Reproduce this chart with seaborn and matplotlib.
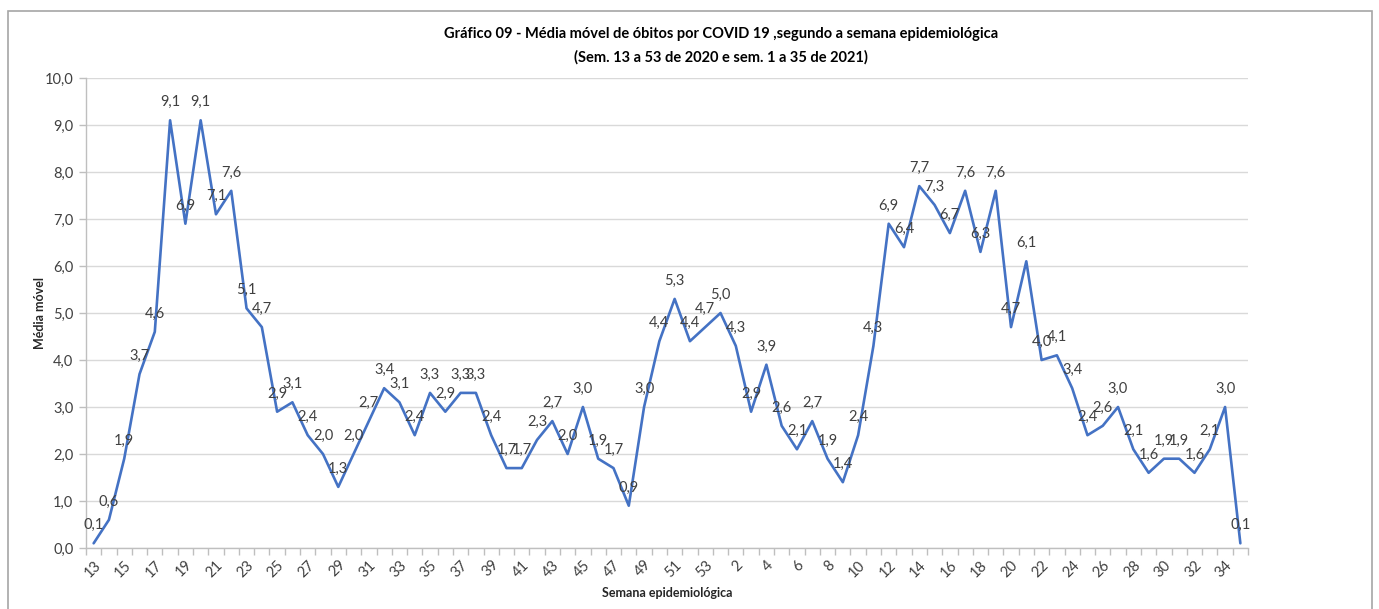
import numpy as np
import pandas as pd
import matplotlib
matplotlib.use("Agg")
import matplotlib.pyplot as plt
from matplotlib.patches import Rectangle
from matplotlib.ticker import FixedLocator, FuncFormatter
import seaborn as sns

# Epidemiological weeks: 13-53 of 2020 followed by 1-35 of 2021
weeks_2020 = list(range(13, 54))
weeks_2021 = list(range(1, 36))
week_labels = [str(w) for w in weeks_2020 + weeks_2021]

media_2020 = [0.1, 0.6, 1.9, 3.7, 4.6, 9.1, 6.9, 9.1, 7.1, 7.6,
              5.1, 4.7, 2.9, 3.1, 2.4, 2.0, 1.3, 2.0, 2.7, 3.4,
              3.1, 2.4, 3.3, 2.9, 3.3, 3.3, 2.4, 1.7, 1.7, 2.3,
              2.7, 2.0, 3.0, 1.9, 1.7, 0.9, 3.0, 4.4, 5.3, 4.4,
              4.7]
media_2021 = [5.0, 4.3, 2.9, 3.9, 2.6, 2.1, 2.7, 1.9, 1.4, 2.4,
              4.3, 6.9, 6.4, 7.7, 7.3, 6.7, 7.6, 6.3, 7.6, 4.7,
              6.1, 4.0, 4.1, 3.4, 2.4, 2.6, 3.0, 2.1, 1.6, 1.9,
              1.9, 1.6, 2.1, 3.0, 0.1]
media_movel = media_2020 + media_2021

df = pd.DataFrame({
    "pos": np.arange(len(media_movel)),
    "semana": week_labels,
    "media": media_movel,
})

sns.set_style("white")
plt.rcParams["font.family"] = ["Lato", "DejaVu Sans"]

fig = plt.figure(figsize=(13.79, 6.09), dpi=100)
ax = fig.add_axes([86 / 1379, 1 - 548 / 609, (1248 - 86) / 1379, (548 - 78) / 609])

sns.lineplot(data=df, x="pos", y="media", ax=ax, color="#4472C4",
             linewidth=1.9, legend=False)

txt_color = "#404040"
def comma(v):
    return f"{v:.1f}".replace(".", ",")

for _, row in df.iterrows():
    ax.annotate(comma(row["media"]), (row["pos"], row["media"]),
                xytext=(0, 13), textcoords="offset points",
                ha="center", va="center", fontsize=10.5, color=txt_color)

n = len(df)
ax.set_xlim(-0.5, n - 0.5)
ax.set_ylim(0, 10)
ax.set_yticks(np.arange(0, 11, 1))
ax.yaxis.set_major_formatter(FuncFormatter(lambda v, p: comma(v)))

# Category labels on every other week; tick marks between categories
label_pos = df["pos"][::2].to_numpy()
ax.set_xticks(label_pos)
ax.set_xticklabels(df["semana"][::2], rotation=45, ha="right",
                   rotation_mode="anchor", fontsize=10.5, color=txt_color)
ax.xaxis.set_minor_locator(FixedLocator(np.arange(-0.5, n, 1.0)))
ax.tick_params(axis="x", which="major", length=0, pad=7)
ax.tick_params(axis="x", which="minor", length=5, width=1, color="#BFBFBF",
               direction="out", bottom=True)
ax.tick_params(axis="y", which="major", length=5, width=1, color="#BFBFBF",
               direction="out", left=True, labelsize=10.5, labelcolor=txt_color, pad=4)

ax.grid(axis="y", color="#D9D9D9", linewidth=1)
ax.grid(axis="x", visible=False)
for side in ["top", "right"]:
    ax.spines[side].set_visible(False)
for side in ["left", "bottom"]:
    ax.spines[side].set_color("#BFBFBF")
    ax.spines[side].set_linewidth(1)

ax.set_xlabel("")
ax.set_ylabel("")
fig.text(40 / 1379, 1 - 313 / 609, "Média móvel", rotation=90, ha="center",
         va="center", fontsize=9, fontweight="bold", color="#262626")
fig.text(667 / 1379, 1 - 593 / 609, "Semana epidemiológica", ha="center",
         va="center", fontsize=9, fontweight="bold", color="#262626")

fig.text(721 / 1379, 1 - 34 / 609,
         "Gráfico 09 - Média móvel de óbitos por COVID 19 ,segundo a semana epidemiológica",
         ha="center", va="center", fontsize=10.5, fontweight="bold", color="black")
fig.text(721 / 1379, 1 - 57 / 609,
         "(Sem. 13 a 53 de 2020 e sem. 1 a 35 de 2021)",
         ha="center", va="center", fontsize=10.5, fontweight="bold", color="black")

# Chart area frame
fig.patches.append(Rectangle((8 / 1379, -0.02), (1372 - 8) / 1379, 1 - 11 / 609 + 0.02,
                             transform=fig.transFigure, fill=False,
                             edgecolor="#A6A6A6", linewidth=1.2))

fig.savefig("out.png", dpi=100, facecolor="white")
